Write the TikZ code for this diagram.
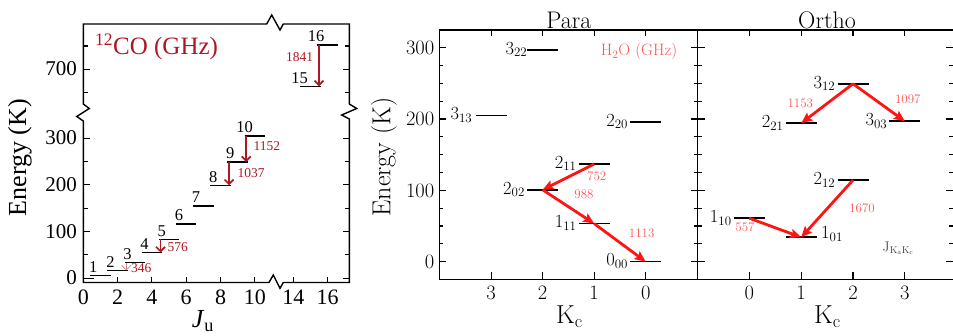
\documentclass[tikz,border=0pt]{standalone}
\usepackage{fontspec}
\newfontfamily\timesfont{Liberation Serif}
\usetikzlibrary{arrows.meta}
\definecolor{cored}{RGB}{172,24,36}
\definecolor{wred}{RGB}{255,20,20}
\definecolor{wlabel}{RGB}{255,85,85}
\definecolor{jgray}{RGB}{70,70,70}

\begin{document}
\begin{tikzpicture}[x=1pt, y=-1pt, inner sep=0pt,
  axisline/.style={line width=1.4pt, line join=miter},
  tickmark/.style={line width=1.1pt},
  colevel/.style={line width=1.4pt},
  colab/.style={font=\timesfont\fontsize{16.5}{17}\selectfont},
  cotick/.style={font=\timesfont\fontsize{21}{21}\selectfont},
  cotickb/.style={font=\timesfont\fontsize{22}{22}\selectfont},
  coaxis/.style={font=\timesfont\fontsize{26}{26}\selectfont},
  cofreq/.style={font=\timesfont\fontsize{13.5}{14}\selectfont, text=cored},
  coarrow/.style={draw=cored, line width=1.7pt, -{Straight Barb[length=4.5pt,width=9pt]}},
  wlevel/.style={line width=1.6pt},
  wlab/.style={font=\fontsize{18.5}{19}\selectfont},
  wtick/.style={font=\fontsize{20.5}{21}\selectfont},
  waxis/.style={font=\fontsize{26}{26}\selectfont},
  wtitle/.style={font=\fontsize{24}{24}\selectfont},
  wfreq/.style={font=\fontsize{13}{13}\selectfont, text=wlabel},
  warrow/.style={draw=wred, line width=2.8pt, -{Stealth[length=11pt,width=9.5pt,inset=2pt]}}]
\useasboundingbox (0,0) rectangle (953,336);

% CO ladder: frame with axis breaks
\draw[axisline] (83.3,104) -- (83.3,24) -- (266.7,24) -- (271.7,15) -- (280,30) -- (283.3,24) -- (349.3,24)
  -- (349.3,104) -- (356.7,108.5) -- (341.7,115) -- (349.3,119) -- (349.3,282.5)
  -- (283.3,282.5) -- (280,288.3) -- (273.3,275) -- (269,282.5) -- (83.3,282.5)
  -- (83.3,121) -- (76.7,116.5) -- (89.3,108.5) -- cycle;
\foreach \e in {0,100,200,300} {
  \draw[tickmark] (83.3,{278.3-0.467*\e}) -- ++(6.5,0);
  \draw[tickmark] (349.3,{278.3-0.467*\e}) -- ++(-6.5,0);
  \node[cotick, anchor=base east] (coy\e) at (77,{285-0.467*\e}) {\e};
}
\foreach \e in {50,150,250} {
  \draw[tickmark] (83.3,{278.3-0.467*\e}) -- ++(4.5,0);
  \draw[tickmark] (349.3,{278.3-0.467*\e}) -- ++(-4.5,0);
}
\draw[tickmark] (83.3,69.3) -- ++(6.5,0);
\draw[tickmark] (349.3,69.3) -- ++(-6.5,0);
\foreach \y in {46.0,92.7} {
  \draw[tickmark] (83.3,\y) -- ++(4.5,0);
  \draw[tickmark] (349.3,\y) -- ++(-4.5,0);
}
\node[cotick, anchor=base east] (coy700) at (77,76) {700};
\foreach \j in {0,2,...,10} {
  \draw[tickmark] ({83.3+17.15*\j},282.5) -- ++(0,-5);
  \node[cotickb, anchor=base] (cox\j) at ({83.3+17.15*\j},305) {\j};
}
\foreach \j in {14,16} {
  \draw[tickmark] ({293.3+17.15*(\j-14)},282.5) -- ++(0,-5);
  \node[cotickb, anchor=base] (cox\j) at ({293.3+17.15*(\j-14)},305) {\j};
}
\node[coaxis, rotate=90] (coenergy) at (20,157.5) {Energy (K)};
\node[coaxis, anchor=base] (coju) at (203,328) {\textit{J}\textsubscript{u}};
\node[coaxis, font=\timesfont\fontsize{25}{25}\selectfont, text=cored, anchor=west] (cotitle) at (95,46.7) {\textsuperscript{12}CO (GHz)};

% CO levels
\draw[colevel] (83.3,278.3) -- (93.6,278.3);
\foreach \j/\y/\xa/\xl in {1/275.7/90.2/93.2, 2/270.5/107.4/110.4, 3/262.8/124.5/127.5, 4/252.5/141.6/144.6,
    5/239.5/158.8/161.8, 6/224.0/175.9/178.9, 7/206.0/193.0/196.0, 8/185.3/210.2/213.2,
    9/162.1/227.3/230.3, 10/136.2/244.5/244.5, 15/86.3/300.2/299.5, 16/45.2/317.3/316.0} {
  \draw[colevel] (\xa,\y) -- ++(20.5,0);
  \node[colab, anchor=base] (col\j) at (\xl,{\y-3.2}) {\j};
}
\coordinate (co3a) at (126.2,262.8);
\coordinate (co2b) at (126.2,270.5);
\coordinate (co5a) at (160.5,239.5);
\coordinate (co4b) at (160.5,252.5);
\coordinate (co9a) at (229.1,162.1);
\coordinate (co8b) at (229.1,185.3);
\coordinate (co10a) at (246.2,136.2);
\coordinate (co9b) at (246.2,162.1);
\coordinate (co16a) at (319.0,45.2);
\coordinate (co15b) at (319.0,86.3);
\draw[coarrow, draw=cored!50, line width=0.8pt] (co3a) -- (co2b);
\draw[coarrow] (co5a) -- (co4b);
\draw[coarrow] (co9a) -- (co8b);
\draw[coarrow] (co10a) -- (co9b);
\draw[coarrow] (co16a) -- (co15b);
\node[cofreq, anchor=west] (f346) at (131,268.3) {346};
\node[cofreq, anchor=west] (f576) at (167.3,246.7) {576};
\node[cofreq, anchor=west] (f1037) at (237.3,173) {1037};
\node[cofreq, anchor=west] (f1152) at (253.3,145.8) {1152};
\node[cofreq, anchor=east] (f1841) at (313.3,57.5) {1841};

% H2O ladders: frames
\draw[axisline] (439.3,30) rectangle (955,279.3);
\draw[axisline] (697.7,30) -- (697.7,279.3);
\foreach \e in {0,100,200,300} {
  \draw[tickmark] (439.3,{261.7-0.7133*\e}) -- ++(7,0);
  \draw[tickmark] (690.7,{261.7-0.7133*\e}) -- ++(14,0);
  \draw[tickmark] (953,{261.7-0.7133*\e}) -- ++(-7,0);
  \node[wtick, anchor=base east] (wy\e) at (434.5,{268.5-0.7133*\e}) {\e};
}
\foreach \e in {25,50,75,125,150,175,225,250,275} {
  \draw[tickmark] (439.3,{261.7-0.7133*\e}) -- ++(4,0);
  \draw[tickmark] (693.7,{261.7-0.7133*\e}) -- ++(8,0);
  \draw[tickmark] (953,{261.7-0.7133*\e}) -- ++(-4,0);
}
\foreach \k in {0,...,3} {
  \draw[tickmark] ({645.7-51.55*\k},279.3) -- ++(0,-7);
  \draw[tickmark] ({645.7-51.55*\k},30) -- ++(0,6);
  \node[wtick, anchor=base] (pk\k) at ({645.7-51.55*\k},300) {\k};
  \draw[tickmark] ({749.3+51.85*\k},279.3) -- ++(0,-7);
  \draw[tickmark] ({749.3+51.85*\k},30) -- ++(0,6);
  \node[wtick, anchor=base] (ok\k) at ({749.3+51.85*\k},300) {\k};
}
\node[waxis, rotate=90] (wenergy) at (384,157) {Energy (K)};
\node[waxis, anchor=base west] (pkc) at (556,323.3) {K\textsubscript{c}};
\node[waxis, anchor=base west] (okc) at (814,323.3) {K\textsubscript{c}};
\node[wtitle, anchor=base] (para) at (568.8,28.3) {Para};
\node[wtitle, anchor=base] (ortho) at (827,28.3) {Ortho};
\node[font=\fontsize{16.5}{17}\selectfont, text=wlabel] (h2otitle) at (639,51.7) {H\textsubscript{2}O (GHz)};
\node[font=\fontsize{14}{14}\selectfont, text=jgray] (jkakc) at (898.3,248.3) {J\textsubscript{K\textsubscript{a}K\textsubscript{c}}};

% H2O levels
\coordinate (p000) at (645.7,261.7);
\coordinate (p111) at (594.2,223.6);
\coordinate (p202) at (542.6,189.8);
\coordinate (p211) at (594.2,164.0);
\coordinate (p220) at (645.7,122.0);
\coordinate (p313) at (491.1,115.7);
\coordinate (p322) at (542.6,50.0);
\coordinate (o101) at (801.2,237.3);
\coordinate (o110) at (749.3,218.2);
\coordinate (o212) at (853.0,180.1);
\coordinate (o221) at (801.2,123.2);
\coordinate (o303) at (904.9,121.3);
\coordinate (o312) at (853.0,83.8);
\foreach \lv in {p000,p111,p202,p211,p220,p313,p322,o101,o110,o212,o221,o303,o312}
  \draw[wlevel] (\lv) ++(-15.5,0) -- ++(31,0);
\node[wlab, anchor=base east] (p000l) at (628.2,266.0) {0\textsubscript{00}};
\node[wlab, anchor=base east] (p111l) at (576.7,227.9) {1\textsubscript{11}};
\node[wlab, anchor=base east] (p202l) at (525.1,194.1) {2\textsubscript{02}};
\node[wlab, anchor=base east] (p211l) at (576.7,168.3) {2\textsubscript{11}};
\node[wlab, anchor=base east] (p220l) at (628.2,126.3) {2\textsubscript{20}};
\node[wlab, anchor=base east] (p313l) at (472.5,120.0) {3\textsubscript{13}};
\node[wlab, anchor=base east] (p322l) at (527.5,54.3) {3\textsubscript{22}};
\node[wlab, anchor=base west] (o101l) at (821.0,238.8) {1\textsubscript{01}};
\node[wlab, anchor=base east] (o110l) at (731.8,222.5) {1\textsubscript{10}};
\node[wlab, anchor=base east] (o212l) at (835.5,184.4) {2\textsubscript{12}};
\node[wlab, anchor=base east] (o221l) at (783.7,127.5) {2\textsubscript{21}};
\node[wlab, anchor=base east] (o303l) at (887.4,125.6) {3\textsubscript{03}};
\node[wlab, anchor=base east] (o312l) at (835.5,88.1) {3\textsubscript{12}};

% H2O lines
\draw[warrow] (p211) -- (p202);
\draw[warrow] (p202) -- (p111);
\draw[warrow] (p111) -- (p000);
\draw[warrow] (o312) -- (o221);
\draw[warrow] (o312) -- (o303);
\draw[warrow] (o110) -- (o101);
\draw[warrow] (o212) -- (o101);
\node[wfreq] (f752) at (596.7,176.7) {752};
\node[wfreq] (f988) at (584,194.7) {988};
\node[wfreq] (f1113) at (641.7,233.3) {1113};
\node[wfreq] (f1153) at (800.3,103.3) {1153};
\node[wfreq] (f1097) at (907.8,99.3) {1097};
\node[wfreq] (f1670) at (862,208.3) {1670};
\node[wfreq] (f557) at (745,227) {557};
\end{tikzpicture}
\end{document}
